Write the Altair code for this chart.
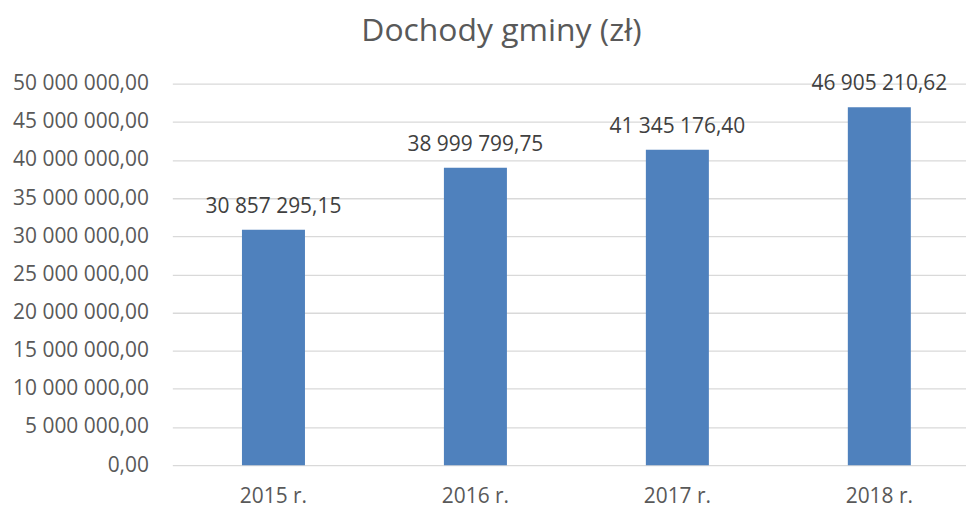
import altair as alt
import pandas as pd

years = ["2015 r.", "2016 r.", "2017 r.", "2018 r."]
values = [30857295.15, 38999799.75, 41345176.40, 46905210.62]
labels = ["30 857 295,15", "38 999 799,75", "41 345 176,40", "46 905 210,62"]

df = pd.DataFrame({"rok": years, "dochody": values, "etykieta": labels})

FONT = "Open Sans"
GREY = "#595959"

base = alt.Chart(df).encode(
    x=alt.X("rok:N", sort=years, title=None,
            scale=alt.Scale(paddingInner=0.688, paddingOuter=0.309, align=0.558),
            axis=alt.Axis(labelAngle=0, labelFontSize=21, labelColor=GREY, labelFont=FONT,
                          ticks=False, domain=False, labelPadding=21)),
    y=alt.Y("dochody:Q", title=None,
            scale=alt.Scale(domain=[0, 50000000]),
            axis=alt.Axis(values=list(range(0, 50000001, 5000000)),
                          labelExpr="replace(replace(format(datum.value, ',.2f'), regexp(',', 'g'), ' '), '.', ',')",
                          labelFontSize=21, labelColor=GREY, labelFont=FONT,
                          ticks=False, domain=False, labelPadding=24,
                          grid=True, gridColor="#d9d9d9", gridWidth=1.3)),
)

bars = base.mark_bar(color="#4f81bd")
text = base.mark_text(baseline="alphabetic", dy=-17, fontSize=21, font=FONT, color="#404040").encode(
    text="etykieta:N")

chart = (bars + text).properties(
    width=797, height=383,
    title=alt.TitleParams("Dochody gminy (zł)", fontSize=32, font=FONT, color=GREY,
                          fontWeight="normal", anchor="middle", dx=-68, offset=25),
    autosize="none",
    padding={"left": 165, "top": 75, "right": 0, "bottom": 41},
).configure_view(stroke=None)

chart.save("out.html", embed_options={"renderer": "svg", "actions": False})
